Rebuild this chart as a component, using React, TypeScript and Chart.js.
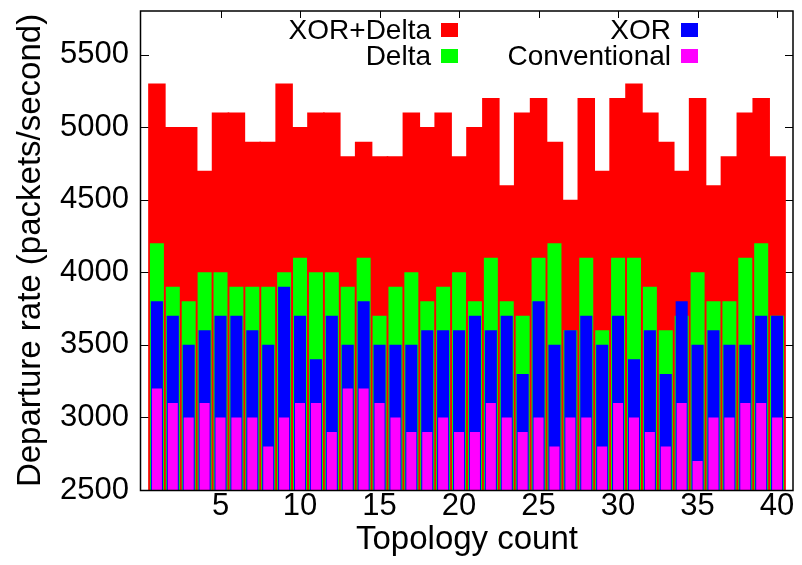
import React, { useEffect, useRef } from "react";
import { Chart, registerables } from "chart.js";

Chart.register(...registerables);

const topologies = [
  1, 2, 3, 4, 5, 6, 7, 8, 9, 10, 11, 12, 13, 14, 15, 16, 17, 18, 19, 20,
  21, 22, 23, 24, 25, 26, 27, 28, 29, 30, 31, 32, 33, 34, 35, 36, 37, 38, 39, 40,
];

const xorDelta = [
  5300, 5000, 5000, 4700, 5100, 5100, 4900, 4900, 5300, 5000,
  5100, 5100, 4800, 4900, 4800, 4800, 5100, 5000, 5100, 4800,
  5000, 5200, 4600, 5100, 5200, 4900, 4500, 5200, 4700, 5200,
  5300, 5100, 4900, 4700, 5200, 4600, 4800, 5100, 5200, 4800,
];

const delta = [
  4200, 3900, 3800, 4000, 4000, 3900, 3900, 3900, 4000, 4100,
  4000, 4000, 3900, 4100, 3700, 3900, 4000, 3800, 3900, 4000,
  3800, 4100, 3800, 3700, 4100, 4200, 3600, 4100, 3600, 4100,
  4100, 3900, 3600, 3700, 4000, 3800, 3800, 4100, 4200, 3700,
];

const xor = [
  3800, 3700, 3500, 3600, 3700, 3700, 3600, 3500, 3900, 3700,
  3400, 3700, 3500, 3800, 3500, 3500, 3500, 3600, 3600, 3600,
  3700, 3600, 3700, 3300, 3800, 3500, 3600, 3700, 3500, 3700,
  3400, 3600, 3300, 3800, 3500, 3600, 3500, 3500, 3700, 3700,
];

const conventional = [
  3200, 3100, 3000, 3100, 3000, 3000, 3000, 2800, 3000, 3100,
  3100, 2900, 3200, 3200, 3100, 3000, 2900, 2900, 3000, 2900,
  2900, 3100, 3000, 2900, 3000, 2800, 3000, 3000, 2800, 3100,
  3000, 2900, 2800, 3100, 2700, 3000, 3000, 3100, 3100, 3000,
];

const seriesNames = ["XOR+Delta", "Delta", "XOR", "Conventional"];
const xTicks = [5, 10, 15, 20, 25, 30, 35, 40];
const yTicks = [2500, 3000, 3500, 4000, 4500, 5000, 5500];
const xTitle = "Topology count";
const yTitle = "Departure rate (packets/second)";

const FONT = "'Liberation Sans', Arial, Helvetica, sans-serif";
const COLORS = ["#ff0000", "#00ff00", "#0000ff", "#ff00ff"];
const WIDTHS = [1.1, 0.88, 0.76, 0.63];

const toPoints = (vals: number[]) => topologies.map((t, i) => ({ x: t, y: vals[i] }));

const framePlugin = {
  id: "gnuFrame",
  beforeDatasetsDraw(chart: any) {
    const { ctx, chartArea: a, scales } = chart;
    ctx.save();
    ctx.strokeStyle = "#000";
    ctx.lineWidth = 1;
    ctx.beginPath();
    for (const v of xTicks) {
      const px = Math.round(scales.x.getPixelForValue(v)) + 0.5;
      ctx.moveTo(px, a.bottom);
      ctx.lineTo(px, a.bottom - 7);
      ctx.moveTo(px, a.top);
      ctx.lineTo(px, a.top + 7);
    }
    for (const v of yTicks) {
      const py = Math.round(scales.y.getPixelForValue(v)) + 0.5;
      ctx.moveTo(a.left, py);
      ctx.lineTo(a.left + 8, py);
      ctx.moveTo(a.right, py);
      ctx.lineTo(a.right - 8, py);
    }
    ctx.stroke();
    ctx.restore();
  },
  afterDraw(chart: any) {
    const { ctx, chartArea: a } = chart;
    ctx.save();
    ctx.strokeStyle = "#000";
    ctx.lineWidth = 1.5;
    ctx.strokeRect(a.left - 0.5, a.top, a.right - a.left + 0.5, a.bottom - a.top + 0.5);

    // legend: two columns, text right-aligned, sample box on the right
    ctx.font = `28px ${FONT}`;
    ctx.textAlign = "right";
    ctx.textBaseline = "alphabetic";
    const cols = [431, 671];
    const rows = [39, 65];
    const layout = [
      [0, 0],
      [1, 0],
      [0, 1],
      [1, 1],
    ]; // [row, col] for each series
    seriesNames.forEach((name, i) => {
      const [r, c] = layout[i];
      ctx.fillStyle = "#000";
      ctx.fillText(name, cols[c], rows[r]);
      ctx.fillStyle = COLORS[i];
      ctx.fillRect(cols[c] + 10, rows[r] - 16, 17, 14);
    });
    ctx.restore();
  },
};

export default function App() {
  const canvasRef = useRef<HTMLCanvasElement | null>(null);

  useEffect(() => {
    document.body.style.margin = "0";
    const canvas = canvasRef.current;
    if (!canvas) return;
    const all = [xorDelta, delta, xor, conventional];
    const chart = new Chart(canvas, {
      type: "bar",
      data: {
        datasets: all.map((vals, i) => ({
          label: seriesNames[i],
          data: toPoints(vals),
          backgroundColor: COLORS[i],
          borderWidth: 0,
          inflateAmount: 0,
          grouped: false,
          categoryPercentage: 1,
          barPercentage: WIDTHS[i],
          order: 4 - i,
        })),
      },
      options: {
        responsive: false,
        animation: false,
        devicePixelRatio: 1,
        layout: { padding: { top: 11, right: 9, left: 0, bottom: 0 } },
        plugins: {
          legend: { display: false },
          tooltip: { enabled: false },
        },
        scales: {
          x: {
            type: "linear",
            min: 0,
            max: 41,
            offset: false,
            grid: { display: false, drawTicks: false },
            border: { display: false },
            afterBuildTicks: (s: any) => {
              s.ticks = xTicks.map((v) => ({ value: v }));
            },
            afterFit: (s: any) => {
              s.height = 75;
              s.paddingLeft = 0;
              s.paddingRight = 0;
              s.paddingTop = 0;
              s.paddingBottom = 0;
            },
            ticks: {
              autoSkip: false,
              maxRotation: 0,
              padding: 1,
              color: "#000",
              font: { family: FONT, size: 31, lineHeight: 1 },
              callback: (v: any) => String(v),
            },
            title: {
              display: true,
              text: xTitle,
              color: "#000",
              font: { family: FONT, size: 33, lineHeight: 1.2 },
              padding: { top: 0, bottom: 5 },
            },
          },
          y: {
            type: "linear",
            min: 2500,
            max: 5800,
            grid: { display: false, drawTicks: false },
            border: { display: false },
            afterBuildTicks: (s: any) => {
              s.ticks = yTicks.map((v) => ({ value: v }));
            },
            afterFit: (s: any) => {
              s.width = 141;
              s.paddingLeft = 0;
              s.paddingRight = 0;
              s.paddingTop = 0;
              s.paddingBottom = 0;
            },
            ticks: {
              autoSkip: false,
              padding: 12,
              color: "#000",
              font: { family: FONT, size: 31, lineHeight: 1 },
              callback: (v: any) => String(v),
            },
            title: {
              display: true,
              text: yTitle,
              color: "#000",
              font: { family: FONT, size: 33, lineHeight: 1.2 },
              padding: { top: 11, bottom: 0 },
            },
          },
        },
      },
      plugins: [framePlugin],
    } as any);
    return () => chart.destroy();
  }, []);

  return (
    <div style={{ position: "fixed", left: 0, top: 0, width: 802, height: 565, background: "#fff" }}>
      <canvas ref={canvasRef} width={802} height={565} style={{ display: "block" }} />
    </div>
  );
}
